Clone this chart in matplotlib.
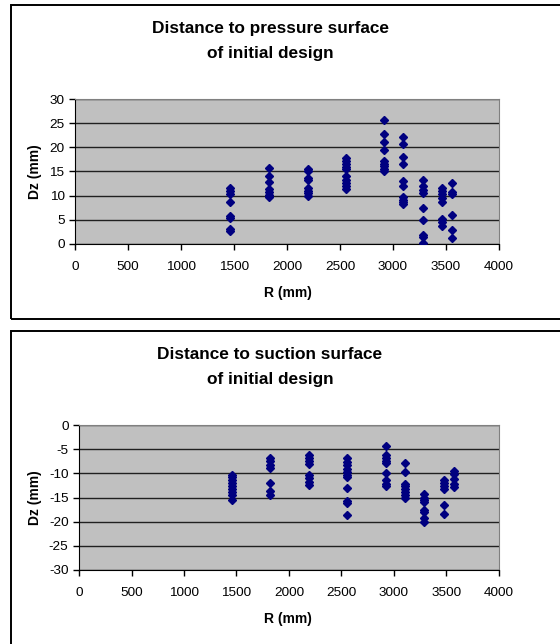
import matplotlib
matplotlib.use("Agg")
import matplotlib.pyplot as plt
from matplotlib.patches import Rectangle

plt.rcParams["font.family"] = ["Liberation Sans", "DejaVu Sans"]
plt.rcParams["axes.unicode_minus"] = False

# radial stations (mm)
r_pressure = [1460, 1831, 2196, 2561, 2917, 3096, 3282, 3464, 3559]
r_suction = [1458, 1823, 2192, 2548, 2920, 3104, 3288, 3475, 3571]

# distance to pressure surface (mm), one list per station
dz_pressure = [
    [11.6, 11.0, 10.3, 8.6, 5.8, 5.4, 3.1, 2.7],
    [15.7, 14.0, 12.9, 11.3, 10.7, 10.1, 9.7],
    [15.6, 15.1, 13.6, 13.2, 11.6, 11.0, 10.5, 10.0],
    [17.8, 17.2, 16.6, 16.0, 15.5, 14.0, 13.3, 12.6, 11.9, 11.4],
    [25.6, 22.7, 21.1, 19.5, 17.1, 16.6, 16.1, 15.6, 15.2],
    [22.1, 20.6, 18.1, 16.5, 13.0, 12.1, 9.7, 9.2, 8.7, 8.3],
    [13.3, 12.0, 11.1, 10.6, 7.4, 4.9, 1.9, 1.4, 0.3],
    [11.6, 11.0, 10.3, 9.5, 8.7, 5.2, 4.5, 3.8],
    [12.6, 10.8, 10.3, 5.9, 2.8, 1.2],
]

# distance to suction surface (mm)
dz_suction = [
    [-10.3, -10.8, -11.4, -12.0, -12.6, -13.2, -13.8, -14.4, -15.5],
    [-6.8, -7.5, -8.2, -8.8, -11.9, -13.7, -14.4],
    [-6.3, -6.9, -7.5, -8.0, -10.3, -11.0, -11.7, -12.5],
    [-6.9, -7.6, -8.3, -9.0, -9.7, -10.3, -10.8, -13.0, -15.7, -16.1, -18.6],
    [-4.3, -6.3, -6.9, -7.4, -7.8, -9.9, -11.3, -12.2, -12.7],
    [-7.9, -9.7, -12.2, -12.7, -13.2, -13.8, -14.4, -15.1],
    [-14.3, -15.0, -15.6, -16.0, -17.6, -18.1, -19.3, -20.0],
    [-11.4, -12.0, -12.6, -13.2, -16.5, -18.4],
    [-9.5, -10.1, -11.2, -12.2, -12.9],
]

W, H = 560, 644
fig = plt.figure(figsize=(W / 100, H / 100), dpi=100)


def px_axes(left, top, right, bottom):
    return fig.add_axes([left / W, 1 - bottom / H, (right - left) / W, (bottom - top) / H])


def panel(box_top, box_bottom, ax_box, r, dz, ylim, yticks, title, title_y, xlabel_y, ylabel_x):
    fig.patches.append(Rectangle((11 / W, 1 - box_bottom / H), 600 / W, (box_bottom - box_top) / H,
                                 transform=fig.transFigure, fill=False, edgecolor="black",
                                 linewidth=1.4, zorder=0))
    ax = px_axes(*ax_box)
    ax.set_facecolor("#C0C0C0")
    xs, ys = [], []
    for ri, vals in zip(r, dz):
        xs += [ri] * len(vals)
        ys += vals
    ax.plot(xs, ys, linestyle="none", marker="D", markersize=4.5, color="#000080",
            markeredgecolor="#000080", zorder=3)
    ax.set_xlim(0, 4000)
    ax.set_ylim(*ylim)
    ax.set_xticks(range(0, 4001, 500))
    ax.set_yticks(yticks)
    ax.yaxis.grid(True, color="#202020", linewidth=1.0)
    ax.set_axisbelow(True)
    for s in ("top", "right"):
        ax.spines[s].set_color("#808080")
    for s in ("left", "bottom"):
        ax.spines[s].set_color("black")
    ax.tick_params(direction="out", length=4, width=1, labelsize=9.7)
    ax.tick_params(axis="x", pad=8.5)
    ax.tick_params(axis="y", pad=3.5)
    fig.text(270 / W, 1 - title_y / H, title, ha="center", va="center", fontsize=12.4,
             fontweight="bold", linespacing=1.8)
    fig.text(288 / W, 1 - xlabel_y / H, "R (mm)", ha="center", va="center", fontsize=10,
             fontweight="bold")
    fig.text(ylabel_x / W, 1 - (ax_box[1] + ax_box[3]) / 2 / H, "Dz (mm)", ha="center",
             va="center", rotation=90, fontsize=10, fontweight="bold")
    return ax


panel(5, 319, (75, 99, 499, 244), r_pressure, dz_pressure, (0, 30), range(0, 31, 5),
      "Distance to pressure surface\nof initial design", 41, 293, 35)
panel(331, 700, (79, 425, 499, 570), r_suction, dz_suction, (-30, 0), range(-30, 1, 5),
      "Distance to suction surface\nof initial design", 367, 619, 35)

fig.savefig("out.png", dpi=100)
